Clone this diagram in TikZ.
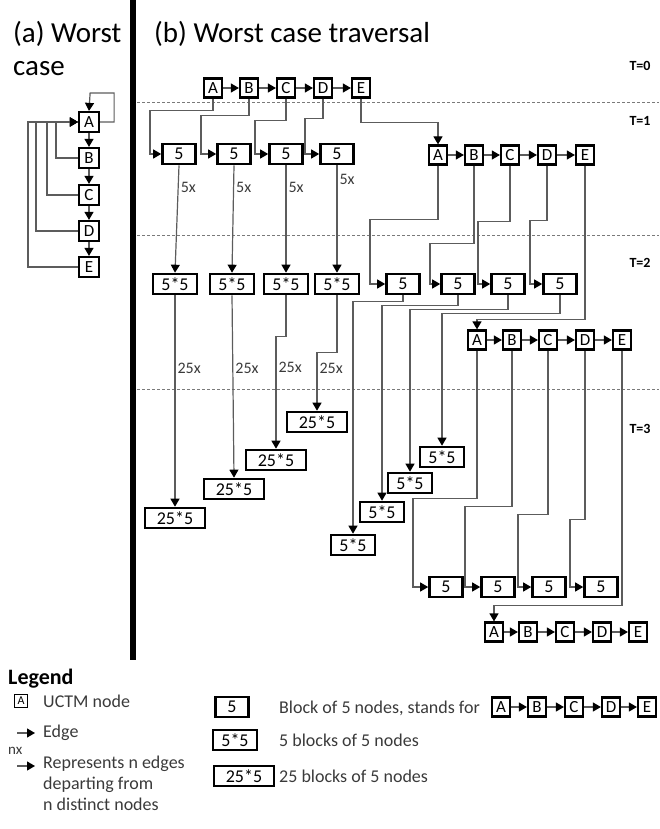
\documentclass[tikz,border=0pt]{standalone}
\usepackage{fontspec}
\setmainfont{Carlito}
\usepackage{tikz}
\usetikzlibrary{
  arrows.meta
}
\definecolor{EdgeGray}{HTML}{5C5C5C}
\definecolor{RuleGray}{HTML}{7A7A7A}
\definecolor{LabelGray}{HTML}{3A3A3A}
\tikzset{
  ctm/.style={
    draw=black,
    line width=2.2pt,
    minimum width=18pt,
    minimum height=19pt,
    inner sep=0pt,
    font=\fontsize{17}{17}\selectfont
  },
  blk/.style={
    draw=black,
    line width=2.6pt,
    minimum width=33pt,
    minimum height=20pt,
    inner sep=0pt,
    font=\fontsize{18}{18}\selectfont
  },
  blkfive/.style={
    blk,
    minimum width=44pt
  },
  blktwentyfive/.style={
    blk,
    minimum width=60pt
  },
  link/.style={
    -{Triangle[length=8pt,width=9pt,color=black]},
    draw=EdgeGray,
    line width=1.2pt
  },
  trule/.style={
    draw=RuleGray,
    line width=1pt,
    dash pattern=on 3pt off 2pt
  },
  tlabel/.style={
    font=\bfseries\fontsize{14}{14}\selectfont
  },
  countlabel/.style={
    font=\fontsize{16}{16}\selectfont,
    text=LabelGray,
    inner sep=2pt
  },
  headtext/.style={
    font=\fontsize{29}{33}\selectfont,
    align=left,
    inner sep=0pt
  },
  legendtext/.style={
    font=\fontsize{18}{21}\selectfont,
    text=LabelGray,
    align=left,
    inner sep=0pt
  }
}

\begin{document}
\begin{tikzpicture}[x=1pt,y=-1pt]
  \useasboundingbox (0,0) rectangle (659,829);

  % headings and divider
  \node[headtext, anchor=north west] (heada) at (13,21) {(a) Worst\\case};
  \node[headtext, anchor=north west] (headb) at (154,21) {(b) Worst case traversal};
  \draw[line width=6pt] (133,0) -- (133,660);

  % time steps
  \foreach \y in {103,235,389} {
    \draw[trule] (137,\y) -- (659,\y);
  }
  \node[tlabel] (tzero) at (640,66) {T=0};
  \node[tlabel] (tone) at (640,121) {T=1};
  \node[tlabel] (ttwo) at (640,263) {T=2};
  \node[tlabel] (tthree) at (640,429) {T=3};

  % (a) worst case graph
  \foreach \n/\l/\y in {a/A/122,b/B/158,c/C/195,d/D/231,e/E/267} {
    \node[ctm, minimum width=20pt, minimum height=20pt] (w\n) at (89,\y) {\l};
  }
  \foreach \p/\q in {a/b,b/c,c/d,d/e} {
    \draw[link] (w\p) -- (w\q);
  }
  \draw[link] (wa.east) -- ++(14,0) |- ++(-24,-29) -- (wa.north);
  \draw[link] (wb.west) -- ++(-22,0) |- (wa.west);
  \draw[link] (wc.west) -- ++(-31,0) |- (wa.west);
  \draw[link] (wd.west) -- ++(-42,0) |- (wa.west);
  \draw[link] (we.west) -- ++(-50,0) |- (wa.west);

  % T=0
  \foreach \n/\l/\x in {a/A/213,b/B/249,c/C/286,d/D/323,e/E/361} {
    \node[ctm] (t0\n) at (\x,88) {\l};
  }
  \foreach \p/\q in {a/b,b/c,c/d,d/e} {
    \draw[link] (t0\p) -- (t0\q);
  }

  % T=1
  \node[blk] (t1s1) at (179,154) {5};
  \node[blk] (t1s2) at (234,154) {5};
  \node[blk] (t1s3) at (286,154) {5};
  \node[blk] (t1s4) at (337,154) {5};
  \foreach \n/\l/\x in {a/A/438,b/B/474,c/C/510,d/D/547,e/E/585} {
    \node[ctm] (t1\n) at (\x,155) {\l};
  }
  \foreach \p/\q in {a/b,b/c,c/d,d/e} {
    \draw[link] (t1\p) -- (t1\q);
  }
  \draw[link] (t0a.south) |- ++(-63,12) |- (t1s1.west);
  \draw[link] (t0b.south) |- ++(-48,17) |- (t1s2.west);
  \draw[link] (t0c.south) |- ++(-31,22) |- (t1s3.west);
  \draw[link] (t0d.south) |- ++(-18,20) |- (t1s4.west);
  \draw[link] (t0e.south) |- ++(77,24) -- (t1a.north);

  % T=2
  \node[blkfive] (t2f1) at (175,284) {5*5};
  \node[blkfive] (t2f2) at (232,284) {5*5};
  \node[blkfive] (t2f3) at (286,284) {5*5};
  \node[blkfive] (t2f4) at (337,284) {5*5};
  \node[blk] (t2s1) at (403,284) {5};
  \node[blk] (t2s2) at (458,284) {5};
  \node[blk] (t2s3) at (508,284) {5};
  \node[blk] (t2s4) at (560,284) {5};
  \foreach \n/\l/\x in {a/A/477,b/B/512,c/C/548,d/D/585,e/E/622} {
    \node[ctm] (t2\n) at (\x,340) {\l};
  }
  \foreach \p/\q in {a/b,b/c,c/d,d/e} {
    \draw[link] (t2\p) -- (t2\q);
  }
  \draw[link] (t1s1.south) -- node[countlabel, pos=0.21, right] (cfive1) {5x} (t2f1.north);
  \draw[link] (t1s2.south) -- node[countlabel, pos=0.21, right] (cfive2) {5x} (t2f2.north);
  \draw[link] (t1s3.south) -- node[countlabel, pos=0.21, right] (cfive3) {5x} (t2f3.north);
  \draw[link] (t1s4.south) -- node[countlabel, pos=0.13, right] (cfive4) {5x} (t2f4.north);
  \draw[link] (t1a.south) |- ++(-68,54) |- (t2s1.west);
  \draw[link] (t1b.south) |- ++(-44,78) |- (t2s2.west);
  \draw[link] (t1c.south) |- ++(-32,56) |- (t2s3.west);
  \draw[link] (t1d.south) |- ++(-17,55) |- (t2s4.west);
  \draw[link] (t1e.south) |- ++(-108,154) -- (t2a.north);

  % T=3
  \node[blktwentyfive] (t3q1) at (175,518) {25*5};
  \node[blktwentyfive] (t3q2) at (234,489) {25*5};
  \node[blktwentyfive] (t3q3) at (276,460) {25*5};
  \node[blktwentyfive] (t3q4) at (317,422) {25*5};
  \node[blkfive] (t3f1) at (353,545) {5*5};
  \node[blkfive] (t3f2) at (382,512) {5*5};
  \node[blkfive] (t3f3) at (410,483) {5*5};
  \node[blkfive] (t3f4) at (442,457) {5*5};
  \node[blk] (t3s1) at (446,587) {5};
  \node[blk] (t3s2) at (498,587) {5};
  \node[blk] (t3s3) at (549,587) {5};
  \node[blk] (t3s4) at (601,587) {5};
  \foreach \n/\l/\x in {a/A/494,b/B/528,c/C/565,d/D/602,e/E/638} {
    \node[ctm] (t3\n) at (\x,632) {\l};
  }
  \foreach \p/\q in {a/b,b/c,c/d,d/e} {
    \draw[link] (t3\p) -- (t3\q);
  }
  \draw[link] (t2f1.south) -- node[countlabel, pos=0.345, right] (ctwenty1) {25x} (t3q1.north);
  \draw[link] (t2f2.south) -- node[countlabel, pos=0.40, right] (ctwenty2) {25x} (t3q2.north);
  \draw[link] (t2f3.south) |- ++(-10,41) -- node[countlabel, pos=0.28, right] (ctwenty3) {25x} (t3q3.north);
  \draw[link] (t2f4.south) |- ++(-20,57) -- node[countlabel, pos=0.27, right] (ctwenty4) {25x} (t3q4.north);
  \draw[link] (t2s1.south) |- ++(-50,6) -- (t3f1.north);
  \draw[link] (t2s2.south) |- ++(-76,10) -- (t3f2.north);
  \draw[link] (t2s3.south) |- ++(-98,14) -- (t3f3.north);
  \draw[link] (t2s4.south) |- ++(-118,18) -- (t3f4.north);
  \draw[link] (t2a.south) |- ++(-64,148) |- (t3s1.west);
  \draw[link] (t2b.south) |- ++(-47,156) |- (t3s2.west);
  \draw[link] (t2c.south) |- ++(-30,164) |- (t3s3.west);
  \draw[link] (t2d.south) |- ++(-15,169) |- (t3s4.west);
  \draw[link] (t2e.south) |- ++(-128,255) -- (t3a.north);

  % legend
  \node[font=\bfseries\fontsize{22}{22}\selectfont, anchor=west, inner sep=0pt] (legend) at (8,679) {Legend};
  \node[ctm, minimum width=13pt, minimum height=13pt, line width=1.8pt, font=\fontsize{12}{12}\selectfont] (lga) at (21,701) {A};
  \node[legendtext, anchor=west] (lgnode) at (43,701) {UCTM node};
  \coordinate (lgedge) at (17,733);
  \node[legendtext, anchor=west] (lgedgetxt) at (43,733) {Edge};
  \draw[link] (lgedge) -- ++(18,0);
  \node[legendtext, font=\fontsize{15}{15}\selectfont, anchor=west] (lgnx) at (8,751) {nx};
  \coordinate (lgmulti) at (17,766);
  \node[legendtext, anchor=north west] (lgmultitxt) at (43,756) {Represents n edges\\departing from\\n distinct nodes};
  \draw[link] (lgmulti) -- ++(18,0);

  \node[blk] (lgs1) at (232,707) {5};
  \node[legendtext, anchor=west] (lgs1txt) at (279,708) {Block of 5 nodes, stands for};
  \foreach \n/\l/\x in {a/A/501,b/B/537,c/C/574,d/D/611,e/E/647} {
    \node[ctm] (lg\n) at (\x,707) {\l};
  }
  \foreach \p/\q in {a/b,b/c,c/d,d/e} {
    \draw[link] (lg\p) -- (lg\q);
  }
  \node[blkfive] (lgs2) at (235,740) {5*5};
  \node[legendtext, anchor=west] (lgs2txt) at (279,740) {5 blocks of 5 nodes};
  \node[blktwentyfive] (lgs3) at (244,776) {25*5};
  \node[legendtext, anchor=west] (lgs3txt) at (279,776) {25 blocks of 5 nodes};

\end{tikzpicture}
\end{document}
